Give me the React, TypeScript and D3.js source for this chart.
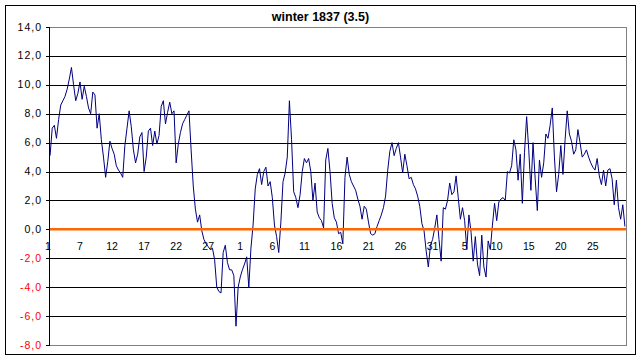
import React from "react";
import * as d3 from "d3";

// Temperature readings (°R), three per day, winter 1837
const decTemps = [
  5.1, 7.0, 7.2, 6.3, 7.6, 8.6, 8.9, 9.2, 9.7, 10.4, 11.2, 10.0, 8.9, 9.4, 10.2, 9.0, 9.9, 9.2, 8.4, 8.0,
  9.5, 9.3, 7.0, 8.0, 6.2, 5.0, 3.6, 4.7, 6.1, 5.6, 5.2, 4.4, 4.1, 3.9, 3.6, 5.8, 7.0, 8.2, 7.1, 5.5,
  4.6, 5.2, 6.4, 6.7, 4.0, 5.0, 6.8, 7.0, 5.8, 6.8, 5.9, 6.5, 8.5, 8.9, 7.3, 8.1, 8.8, 8.0, 8.2, 4.6,
  5.9, 6.7, 7.3, 7.6, 7.9, 8.2, 5.5, 3.0, 1.4, 0.5, 1.0, -0.1, -0.7, -1.0, -1.2, -1.4, -1.3, -2.1, -4.0, -4.3,
  -4.4, -1.6, -1.1, -2.3, -2.8, -2.8, -3.2, -6.7, -4.0,
];
const janTemps = [
  -3.3, -2.8, -2.4, -1.9, -4.0, -1.3, 0.3, 2.8, 3.8, 4.2, 3.1, 4.0, 4.3, 3.0, 3.3, 2.2, 0.3, -0.5, -1.6, 0.5,
  3.3, 3.9, 5.0, 8.9, 6.2, 2.6, 2.2, 1.5, 2.4, 4.0, 4.9, 4.6, 4.9, 4.0, 2.0, 3.2, 1.2, 0.8, 0.6, 0.1,
  4.8, 5.6, 4.0, 1.8, 0.8, 0.5, -0.3, -0.2, -1.0, 3.6, 5.0, 3.8, 3.3, 3.0, 2.7, 2.1, 1.6, 0.7, 1.6, 1.4,
  0.5, -0.3, -0.4, -0.3, 0.2, 0.6, 1.0, 1.5, 2.3, 4.1, 5.4, 6.0, 5.1, 5.6, 6.0, 5.0, 3.9, 5.2, 4.4, 3.5,
  3.6, 3.1, 2.8, 2.3, 1.6, 0.4, -0.1, -1.5, -2.6, -1.1, -0.7, 0.1, 1.0,
];
const febTemps = [
  -0.7, -2.2, 1.5, 1.4, 2.0, 3.2, 2.4, 2.6, 3.7, 2.2, 0.7, 1.5, 0.6, -1.4, 1.0, -0.2, -2.2, -0.5, -2.4, -3.2,
  -0.4, -2.6, -3.3, -0.8, -1.4, 0.3, 1.8, 0.6, 1.9, 2.1, 2.2, 2.0, 4.0, 3.9, 4.4, 6.2, 5.5, 3.4, 5.2, 1.8,
  5.3, 7.8, 5.5, 2.7, 6.0, 3.5, 1.3, 4.8, 3.6, 4.6, 6.6, 6.3, 7.2, 8.4, 5.0, 2.6, 3.8, 5.8, 3.8, 6.2,
  8.2, 6.6, 6.1, 5.2, 5.5, 6.9, 6.0, 5.0, 5.2, 5.5, 5.0, 4.6, 4.3, 4.1, 4.9, 3.7, 3.1, 4.1, 3.0, 4.1,
  4.2, 3.5, 1.7, 3.4, 1.5, 0.7, 1.7, 0.2,
];

const xTickLabels = ["1", "7", "12", "17", "22", "27", "1", "6", "11", "16", "21", "26", "31", "5", "10", "15", "20", "25"];
const xTickIndex = [-1, 14, 29, 44, 59, 74, 89, 104, 119, 134, 149, 164, 179, 194, 209, 224, 239, 254];
const yTicks = [-8, -6, -4, -2, 0, 2, 4, 6, 8, 10, 12, 14];
const title = "winter 1837 (3.5)";

const W = 642;
const H = 361;
const plot = { left: 49, right: 626, top: 27, bottom: 345 };

export default function App() {
  const temps = [...decTemps, ...janTemps, ...febTemps];
  const x = d3.scaleLinear().domain([-0.5, temps.length - 0.5]).range([plot.left, plot.right]);
  const y = d3.scaleLinear().domain([-8, 14]).range([plot.bottom, plot.top]);
  const line = d3
    .line<number>()
    .x((_, i) => x(i))
    .y((d) => y(d));
  const fmt = (v: number) => v.toFixed(1).replace(".", ",");
  const font = "Arial, 'Liberation Sans', sans-serif";

  return (
    <svg
      width={W}
      height={H}
      style={{ position: "absolute", left: 0, top: 0, background: "#fff" }}
      fontFamily={font}
    >
      <rect x={0} y={0} width={W} height={H} fill="#fff" />
      <rect x={5.5} y={5.5} width={630} height={349} fill="#fff" stroke="#000" strokeWidth={1} />
      <text x={320.5} y={20.5} textAnchor="middle" fontSize={12.5} fontWeight="bold" fill="#000">
        {title}
      </text>
      {/* plot area border */}
      <rect
        x={plot.left + 0.5}
        y={plot.top + 0.5}
        width={plot.right - plot.left}
        height={plot.bottom - plot.top}
        fill="#fff"
        stroke="#808080"
        strokeWidth={1}
      />
      {/* gridlines */}
      {yTicks
        .filter((t) => t !== 14 && t !== -8 && t !== 0)
        .map((t) => (
          <line
            key={"g" + t}
            x1={plot.left}
            x2={plot.right}
            y1={Math.round(y(t)) + 0.5}
            y2={Math.round(y(t)) + 0.5}
            stroke="#000"
            strokeWidth={1}
          />
        ))}
      {/* y axis */}
      <line x1={plot.left + 0.5} x2={plot.left + 0.5} y1={plot.top} y2={plot.bottom + 1} stroke="#000" />
      {yTicks.map((t) => (
        <g key={"y" + t}>
          <line
            x1={plot.left - 3}
            x2={plot.left}
            y1={Math.round(y(t)) + 0.5}
            y2={Math.round(y(t)) + 0.5}
            stroke="#000"
          />
          <text
            x={42}
            y={y(t) + 3.5}
            textAnchor="end"
            fontSize={10.5}
            letterSpacing={1}
            fill={t < 0 ? "#ff0000" : "#000"}
          >
            {fmt(t)}
          </text>
        </g>
      ))}
      {/* x labels */}
      {xTickLabels.map((lab, k) => (
        <text key={"x" + k} x={x(xTickIndex[k])} y={249.5} textAnchor="middle" fontSize={10.5} fill="#000">
          {lab}
        </text>
      ))}
      {/* data */}
      <path d={line(temps) ?? ""} fill="none" stroke="#000080" strokeWidth={1} />
      {/* zero line */}
      <line x1={plot.left + 1} x2={plot.right} y1={y(0)} y2={y(0)} stroke="#ff6600" strokeWidth={2.5} />
    </svg>
  );
}
